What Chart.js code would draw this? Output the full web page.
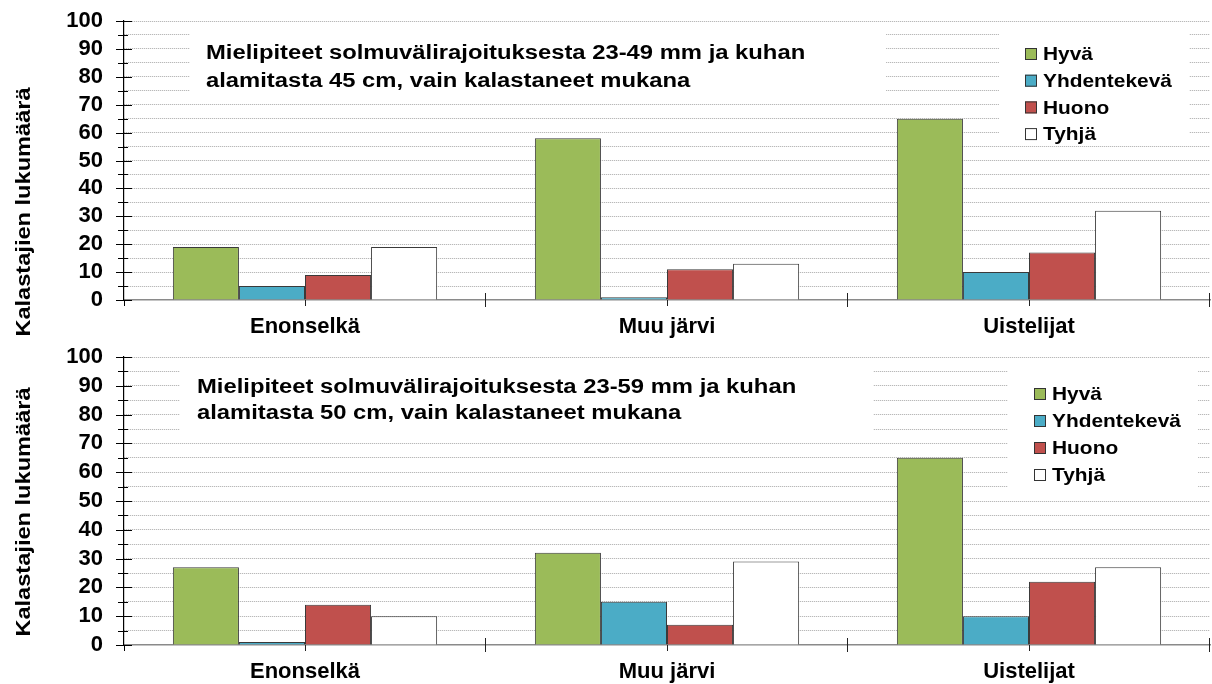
<!DOCTYPE html>
<html>
<head>
<meta charset="utf-8">
<script src="https://cdn.jsdelivr.net/npm/chart.js@4.4.1/dist/chart.umd.min.js"></script>
<style>
  html, body { margin: 0; padding: 0; background: #fff; }
  .kuva { position: relative; width: 1212px; height: 342px; }
</style>
</head>
<body>
<div class="kuva"><canvas id="ylakuva"></canvas></div>
<div class="kuva"><canvas id="alakuva"></canvas></div>
<script>
// ================== DATA ==================
const alueet = ["Enonselkä", "Muu järvi", "Uistelijat"];
const vastaukset = ["Hyvä", "Yhdentekevä", "Huono", "Tyhjä"];
const yTicks = [0, 10, 20, 30, 40, 50, 60, 70, 80, 90, 100];
const yAkseli = "Kalastajien lukumäärä";

// ylempi kuva: 23-49 mm, alamitta 45 cm
const hyva1 = [19, 58, 65];
const yhdentekeva1 = [5, 1, 10];
const huono1 = [9, 11, 17];
const tyhja1 = [19, 13, 32];
const otsikko1 = ["Mielipiteet solmuvälirajoituksesta 23-49 mm ja kuhan",
                  "alamitasta 45 cm, vain kalastaneet mukana"];

// alempi kuva: 23-59 mm, alamitta 50 cm
const hyva2 = [27, 32, 65];
const yhdentekeva2 = [1, 15, 10];
const huono2 = [14, 7, 22];
const tyhja2 = [10, 29, 27];
const otsikko2 = ["Mielipiteet solmuvälirajoituksesta 23-59 mm ja kuhan",
                  "alamitasta 50 cm, vain kalastaneet mukana"];

const varit = ["#9bbb59", "#4bacc6", "#c0504d", "#ffffff"];
const fontti = "'Liberation Sans', Arial, sans-serif";

// ================== PLUGIN: laatikot, otsikko, selite, tikit ==================
const koristeet = {
  id: "koristeet",
  beforeDatasetsDraw(chart, args, o) {
    const ctx = chart.ctx;
    ctx.save();
    ctx.fillStyle = "#fff";
    ctx.fillRect(o.otsikkoLaatikko[0], o.otsikkoLaatikko[1], o.otsikkoLaatikko[2], o.otsikkoLaatikko[3]);
    ctx.fillRect(o.seliteLaatikko[0], o.seliteLaatikko[1], o.seliteLaatikko[2], o.seliteLaatikko[3]);

    // otsikko
    ctx.fillStyle = "#000";
    ctx.font = "bold 20px " + fontti;
    ctx.textBaseline = "middle";
    o.otsikko.forEach((rivi, i) => {
      ctx.save();
      ctx.translate(o.otsikkoX, o.otsikkoY[i]);
      ctx.scale(1.19, 1);
      ctx.fillText(rivi, 0, 0);
      ctx.restore();
    });

    // selite
    chart.data.datasets.forEach((ds, i) => {
      const y = o.seliteY + i * o.seliteVali;
      ctx.fillStyle = ds.backgroundColor;
      ctx.fillRect(o.seliteX, y - 6, 12, 12);
      ctx.strokeStyle = "#333";
      ctx.lineWidth = 1;
      ctx.strokeRect(o.seliteX + 0.5, y - 5.5, 11, 11);
      ctx.save();
      ctx.fillStyle = "#000";
      ctx.font = "bold 19px " + fontti;
      ctx.translate(o.seliteX + 18, y + 1);
      ctx.scale(1.1, 1);
      ctx.fillText(ds.label, 0, 0);
      ctx.restore();
    });
    ctx.restore();
  },
  afterDraw(chart, args, o) {
    const ctx = chart.ctx;
    const ca = chart.chartArea;
    const y = chart.scales.y;
    const x = chart.scales.x;
    ctx.save();
    ctx.strokeStyle = "#000";
    ctx.lineWidth = 1;
    // y-akselin tikit
    for (let v = y.min; v <= y.max; v += 5) {
      const py = Math.round(y.getPixelForValue(v)) + 0.5;
      const iso = v % 10 === 0;
      ctx.beginPath();
      ctx.moveTo(ca.left - (iso ? 8 : 6), py);
      ctx.lineTo(ca.left + (iso ? 8 : 4), py);
      ctx.stroke();
    }
    ctx.beginPath();
    ctx.moveTo(ca.left + 0.5, ca.bottom);
    ctx.lineTo(ca.left + 0.5, ca.bottom + 6);
    ctx.stroke();
    // x-akselin tikit
    ctx.strokeStyle = "#222";
    const leveys = x.getPixelForValue(1) - x.getPixelForValue(0);
    alueet.forEach((a, i) => {
      const keski = Math.round(x.getPixelForValue(i)) + 0.5;
      ctx.beginPath();
      ctx.moveTo(keski, ca.bottom);
      ctx.lineTo(keski, ca.bottom + 6);
      ctx.stroke();
      const raja = Math.round(x.getPixelForValue(i) + leveys / 2) - 0.5;
      ctx.beginPath();
      ctx.moveTo(raja, ca.bottom - 7);
      ctx.lineTo(raja, ca.bottom + 7);
      ctx.stroke();
    });
    // pystyakselin otsikko
    ctx.fillStyle = "#000";
    ctx.font = "bold 20px " + fontti;
    ctx.textAlign = "center";
    ctx.textBaseline = "middle";
    ctx.translate(24, o.akseliY);
    ctx.rotate(-Math.PI / 2);
    ctx.scale(1.18, 1);
    ctx.fillText(yAkseli, 0, 0);
    ctx.restore();
  }
};

// ================== KUVAN TEKO ==================
function teeKuva(id, sarjat, asetus) {
  const ctx = document.getElementById(id).getContext("2d");
  return new Chart(ctx, {
    type: "bar",
    data: {
      labels: alueet,
      datasets: vastaukset.map((nimi, i) => ({
        label: nimi,
        data: sarjat[i],
        backgroundColor: varit[i],
        borderColor: "#3a3a3a",
        borderWidth: 1,
        categoryPercentage: 0.73,
        barPercentage: 1.0
      }))
    },
    options: {
      responsive: true,
      maintainAspectRatio: false,
      animation: false,
      layout: { padding: { top: asetus.ylä, right: 2, left: 0, bottom: 0 } },
      plugins: {
        legend: { display: false },
        tooltip: { enabled: false },
        koristeet: asetus
      },
      scales: {
        x: {
          grid: { display: false, drawTicks: false },
          border: { display: true, color: "#8a8a8a", width: 1.5 },
          ticks: {
            color: "#000",
            padding: asetus.xVali,
            font: { family: fontti, size: 22, weight: "bold" }
          },
          afterFit: s => { s.height = asetus.xKorkeus; }
        },
        y: {
          min: yTicks[0],
          max: yTicks[yTicks.length - 1],
          grid: {
            drawTicks: true,
            tickLength: 21,
            tickColor: "rgba(0,0,0,0)",
            color: c => c.tick && c.tick.value === 0 ? "rgba(0,0,0,0)" : "#a8a8a8",
            lineWidth: 1
          },
          border: { display: true, color: "#000", width: 1.2, dash: [1, 1] },
          ticks: {
            stepSize: 5,
            autoSkip: false,
            padding: 0,
            color: "#000",
            font: { family: fontti, size: 22, weight: "bold" },
            callback: v => yTicks.includes(v) ? String(v) : ""
          },
          afterFit: s => { s.width = 124; }
        }
      }
    },
    plugins: [koristeet]
  });
}

teeKuva("ylakuva", [hyva1, yhdentekeva1, huono1, tyhja1], {
  ylä: 21, xKorkeus: 42, xVali: 14,
  otsikko: otsikko1, otsikkoX: 206, otsikkoY: [53, 81],
  otsikkoLaatikko: [190, 28, 696, 70],
  seliteLaatikko: [999, 28, 190, 112],
  seliteX: 1025, seliteY: 54, seliteVali: 26.7,
  akseliY: 212
});

teeKuva("alakuva", [hyva2, yhdentekeva2, huono2, tyhja2], {
  ylä: 15, xKorkeus: 39, xVali: 14,
  otsikko: otsikko2, otsikkoX: 197, otsikkoY: [45, 71],
  otsikkoLaatikko: [180, 23, 693, 75],
  seliteLaatikko: [1008, 23, 190, 130],
  seliteX: 1034, seliteY: 52, seliteVali: 27,
  akseliY: 170
});
</script>
</body>
</html>
